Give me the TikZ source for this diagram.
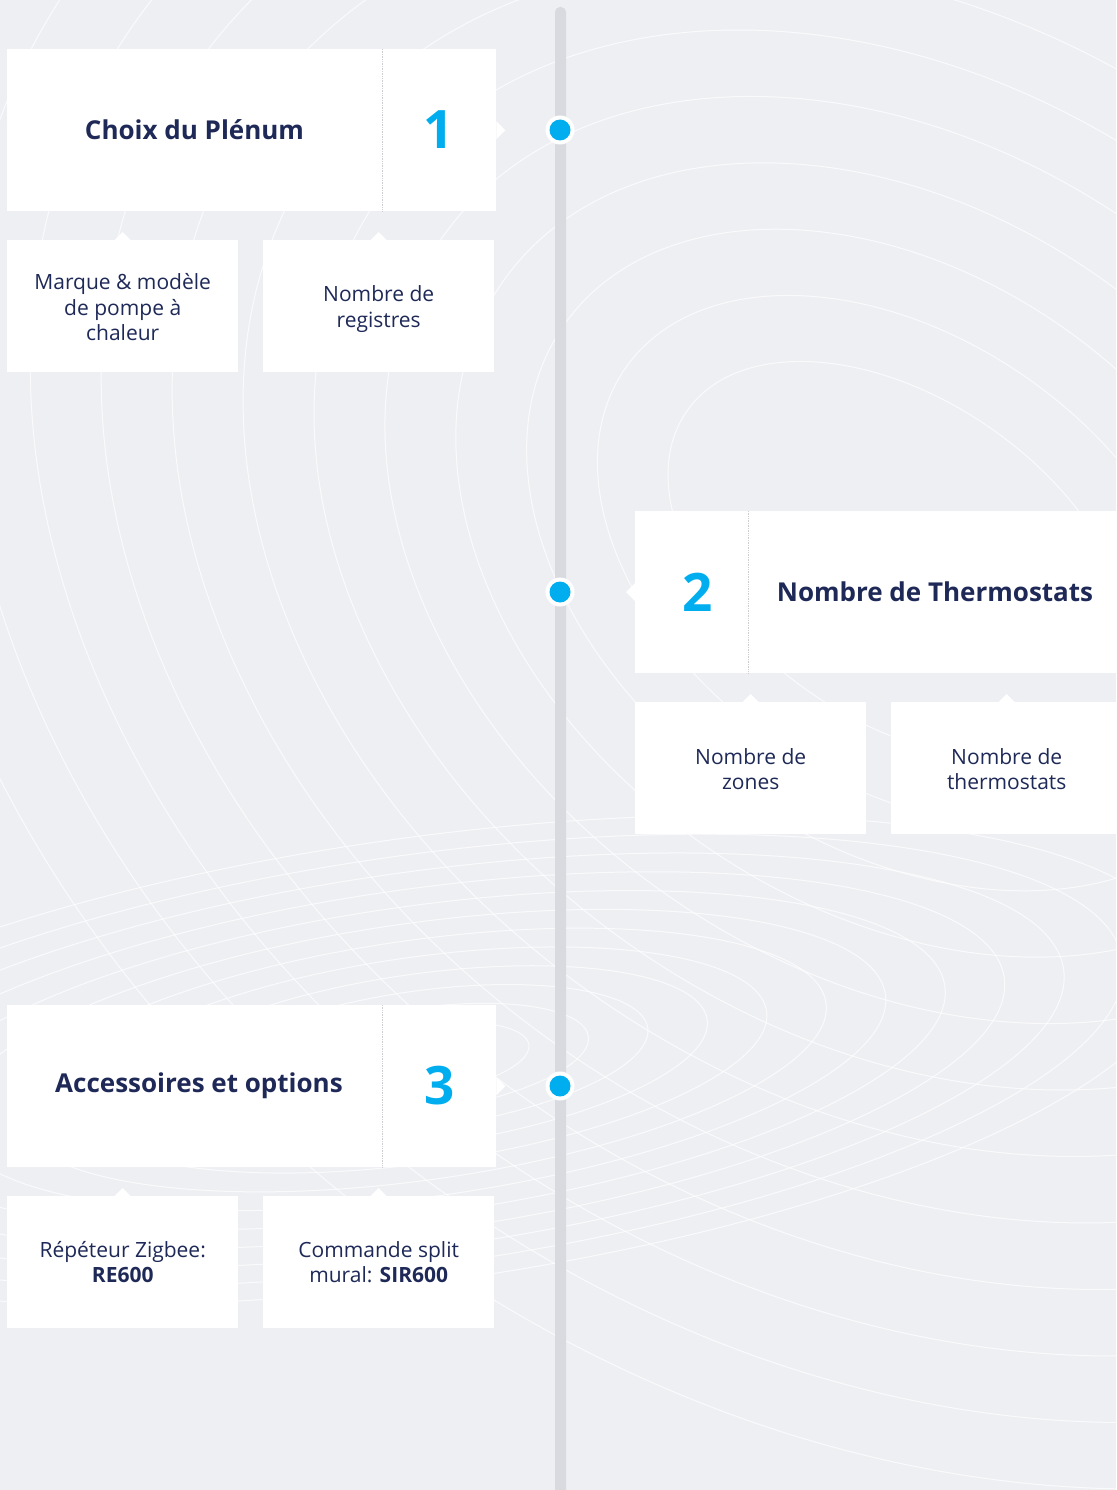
\documentclass[tikz,border=0pt]{standalone}
\usepackage{fontspec}
\setmainfont{Open Sans}
\usetikzlibrary{calc}
\definecolor{bg}{HTML}{EEEFF3}
\definecolor{barcol}{HTML}{D9DADF}
\definecolor{navy}{HTML}{1E2957}
\definecolor{accent}{HTML}{00AEEF}
\definecolor{divline}{HTML}{CDCDD2}
\tikzset{
 card/.style={fill=white, draw=none, inner sep=0pt, anchor=north west},
 heading/.style={font=\fontsize{26}{30}\selectfont\bfseries, text=navy},
 numtext/.style={font=\fontsize{53}{60}\selectfont\bfseries, text=accent},
 subtext/.style={font=\fontsize{21}{25.5}\selectfont, text=navy, align=center},
 contour/.style={draw=white, line width=1pt, opacity=0.75},
 divider/.style={draw=divline, densely dotted, line width=0.7pt},
 dotring/.style={circle, fill=white, minimum size=29pt, inner sep=0pt},
 dotcore/.style={circle, fill=accent, minimum size=21pt, inner sep=0pt},
}
\begin{document}
\begin{tikzpicture}[x=1pt,y=-1pt]
\useasboundingbox (0,0) rectangle (1116,1490);
\fill[bg] (0,0) rectangle (1116,1490);
\begin{scope}
\clip (0,0) rectangle (1116,1490);
% background contours
\foreach \k in {0,...,11}{
  \draw[contour, rotate around={8:(420,1060)}] (420,1060) ellipse ({110+60*\k} and {35+17*\k});
}
\foreach \k in {0,...,11}{
  \draw[contour, rotate around={-35:(900,560)}] (900,560) ellipse ({260+75*\k} and {160+62*\k});
}
% timeline bar
\fill[barcol, rounded corners=5pt] (555,7) rectangle (566,1500);

% ---- step 1 ----
\node[card, minimum width=489pt, minimum height=162pt] (c1) at (7,49) {};
\fill[white] ($(c1.east)+(0,-9)$) -- ($(c1.east)+(9,0)$) -- ($(c1.east)+(0,9)$) -- cycle;
\coordinate (d1t) at (382,49); \coordinate (d1b) at (382,211);
\draw[divider] (d1t) -- (d1b);
\node[heading] (t1) at (194.5,130) {Choix du Plénum};
\node[numtext] (n1) at (439,130) {1};
\node[card, minimum width=231pt, minimum height=132pt] (s1a) at (7,240) {};
\node[card, minimum width=231pt, minimum height=132pt] (s1b) at (263,240) {};
\foreach \s in {s1a,s1b}{
  \fill[white] ($(\s.north)+(-8,0)$) -- ($(\s.north)+(0,-8)$) -- ($(\s.north)+(8,0)$) -- cycle;
}
\node[subtext] at ($(s1a.center)+(0,1)$) {Marque \& modèle\\de pompe à\\chaleur};
\node[subtext] at ($(s1b.center)+(0,3)$) {Nombre de\\registres};
\node[dotring] (r1) at (560,130) {};
\node[dotcore] (p1) at (r1.center) {};

% ---- step 2 ----
\node[card, minimum width=489pt, minimum height=162pt] (c2) at (635,511) {};
\fill[white] ($(c2.west)+(0,-9)$) -- ($(c2.west)+(-9,0)$) -- ($(c2.west)+(0,9)$) -- cycle;
\coordinate (d2t) at (748,511); \coordinate (d2b) at (748,673);
\draw[divider] (d2t) -- (d2b);
\node[numtext] (n2) at (698,592) {2};
\node[heading] (t2) at (935,592) {Nombre de Thermostats};
\node[card, minimum width=231pt, minimum height=132pt] (s2a) at (635,702) {};
\node[card, minimum width=231pt, minimum height=132pt] (s2b) at (891,702) {};
\foreach \s in {s2a,s2b}{
  \fill[white] ($(\s.north)+(-8,0)$) -- ($(\s.north)+(0,-8)$) -- ($(\s.north)+(8,0)$) -- cycle;
}
\node[subtext] at ($(s2a.center)+(0,1)$) {Nombre de\\zones};
\node[subtext] at ($(s2b.center)+(0,1)$) {Nombre de\\thermostats};
\node[dotring] (r2) at (560,592) {};
\node[dotcore] (p2) at (r2.center) {};

% ---- step 3 ----
\node[card, minimum width=489pt, minimum height=162pt] (c3) at (7,1005) {};
\fill[white] ($(c3.east)+(0,-9)$) -- ($(c3.east)+(9,0)$) -- ($(c3.east)+(0,9)$) -- cycle;
\coordinate (d3t) at (382,1005); \coordinate (d3b) at (382,1167);
\draw[divider] (d3t) -- (d3b);
\node[heading] (t3) at (199,1086) {Accessoires et options};
\node[numtext] (n3) at (440,1086) {3};
\node[card, minimum width=231pt, minimum height=132pt] (s3a) at (7,1196) {};
\node[card, minimum width=231pt, minimum height=132pt] (s3b) at (263,1196) {};
\foreach \s in {s3a,s3b}{
  \fill[white] ($(\s.north)+(-8,0)$) -- ($(\s.north)+(0,-8)$) -- ($(\s.north)+(8,0)$) -- cycle;
}
\node[subtext] at (s3a.center) {Répéteur Zigbee:\\\textbf{RE600}};
\node[subtext] at (s3b.center) {Commande split\\mural: \textbf{SIR600}};
\node[dotring] (r3) at (560,1086) {};
\node[dotcore] (p3) at (r3.center) {};
\end{scope}
\end{tikzpicture}
\end{document}
